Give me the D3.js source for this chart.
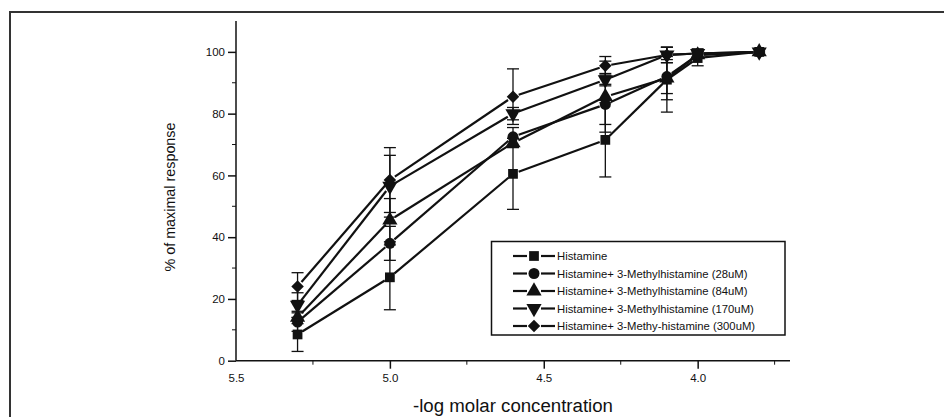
<!DOCTYPE html>
<html>
<head>
<meta charset="utf-8">
<script src="https://cdn.jsdelivr.net/npm/d3@7"></script>
<style>
  body { margin: 0; background: #fff; }
  text { font-family: "Liberation Sans", Arial, sans-serif; fill: #111; }
</style>
</head>
<body>
<script>
// data
const concentrations = [5.3, 5.0, 4.6, 4.3, 4.1, 4.0, 3.8];
const seriesNames = [
  "Histamine",
  "Histamine+ 3-Methylhistamine (28uM)",
  "Histamine+ 3-Methylhistamine (84uM)",
  "Histamine+ 3-Methylhistamine (170uM)",
  "Histamine+ 3-Methy-histamine (300uM)"
];
const histamine     = [8.5, 27, 60.5, 71.5, 91, 98, 100];
const histamine28   = [12.5, 38, 72.5, 83, 92, 99, 100];
const histamine84   = [14, 45.5, 70.5, 85.5, 91.5, 99, 100];
const histamine170  = [18, 56.5, 80, 91, 99, 99.5, 100];
const histamine300  = [24, 58.5, 85.5, 95.5, 99, 99.5, 100];
const errHistamine  = [5.5, 10.5, 11.5, 12, 10.5, 2.5, 0];
const err28         = [3, 5.5, 3, 6.5, 5.5, 1, 0];
const err84         = [2, 7, 1.5, 11.5, 7, 1, 0];
const err170        = [4, 10, 2, 2, 2.5, 1, 0];
const err300        = [4.5, 10.5, 9, 3, 2.5, 1.5, 0];
const xTicks = [5.5, 5.0, 4.5, 4.0];
const yTicks = [0, 20, 40, 60, 80, 100];

const width = 944;
const height = 417;
const marginLeft = 236;
const axisRight = 790;
const axisTop = 21;
const axisBottom = 360.7;

const values = [histamine, histamine28, histamine84, histamine170, histamine300];
const errors = [errHistamine, err28, err84, err170, err300];
const shapes = ["square", "circle", "triangle", "triangleDown", "diamond"];

const x = d3.scaleLinear().domain([5.5, 3.7]).range([marginLeft, axisRight]);
const y = d3.scaleLinear().domain([0, 110]).range([axisBottom, axisTop]);

const svg = d3.select("body").append("svg")
  .attr("width", width)
  .attr("height", height)
  .attr("viewBox", [0, 0, width, height]);

// outer frame (left + top only)
svg.append("path")
  .attr("d", `M10,${height} V12 H${width}`)
  .attr("fill", "none")
  .attr("stroke", "#333")
  .attr("stroke-width", 2);

function marker(g, shape) {
  let p;
  if (shape === "triangleDown") {
    p = g.append("path").attr("d", d3.symbol(d3.symbolTriangle, 100)()).attr("transform", "rotate(180)");
  } else if (shape === "diamond") {
    p = g.append("path").attr("d", d3.symbol(d3.symbolSquare, 78)()).attr("transform", "rotate(45)");
  } else {
    const type = {square: d3.symbolSquare, circle: d3.symbolCircle, triangle: d3.symbolTriangle}[shape];
    const size = {square: 95, circle: 95, triangle: 100}[shape];
    p = g.append("path").attr("d", d3.symbol(type, size)());
  }
  p.attr("fill", "#111");
}

// axes
const xAxis = svg.append("g")
  .attr("transform", `translate(0,${axisBottom})`)
  .call(d3.axisBottom(x).tickValues(xTicks).tickFormat(d3.format(".1f")).tickSize(8).tickPadding(5));
xAxis.select(".domain").attr("d", `M${marginLeft},0H${axisRight}`);
xAxis.selectAll(".tick").filter(d => d === 5.5).select("line").remove();

svg.append("g")
  .attr("transform", `translate(0,${axisBottom})`)
  .selectAll("line")
  .data([5.25, 4.75, 4.25, 3.75])
  .join("line")
  .attr("x1", d => x(d)).attr("x2", d => x(d))
  .attr("y1", 0).attr("y2", 4)
  .attr("stroke", "#111");

const yAxis = svg.append("g")
  .attr("transform", `translate(${marginLeft},0)`)
  .call(d3.axisLeft(y).tickValues(yTicks).tickSize(8).tickPadding(3));
yAxis.select(".domain").attr("d", `M0,${axisBottom}V${axisTop}`);

svg.append("g")
  .attr("transform", `translate(${marginLeft},0)`)
  .selectAll("line")
  .data([10, 30, 50, 70, 90])
  .join("line")
  .attr("y1", d => y(d)).attr("y2", d => y(d))
  .attr("x1", 0).attr("x2", -4)
  .attr("stroke", "#111");

svg.selectAll(".tick text").attr("font-size", 11.5).attr("fill", "#111")
  .attr("font-family", "'Liberation Sans', Arial, sans-serif");
svg.selectAll(".domain, .tick line").attr("stroke", "#111").attr("stroke-width", 1.5);

// axis titles
svg.append("text")
  .attr("transform", "translate(175,197) rotate(-90)")
  .attr("text-anchor", "middle")
  .attr("font-size", 14)
  .attr("textLength", 149)
  .attr("lengthAdjust", "spacingAndGlyphs")
  .text("% of maximal response");

svg.append("text")
  .attr("x", 513)
  .attr("y", 412)
  .attr("text-anchor", "middle")
  .attr("font-size", 18)
  .attr("textLength", 200)
  .attr("lengthAdjust", "spacingAndGlyphs")
  .text("-log molar concentration");

// series
const gap = 6;
values.forEach((vals, i) => {
  const pts = concentrations.map((c, j) => [x(c), y(vals[j])]);
  const g = svg.append("g");

  // error bars
  concentrations.forEach((c, j) => {
    const e = errors[i][j];
    if (!e) return;
    const cx = x(c);
    g.append("line").attr("x1", cx).attr("x2", cx)
      .attr("y1", y(vals[j] - e)).attr("y2", y(vals[j] + e));
    [vals[j] - e, vals[j] + e].forEach(v => {
      g.append("line").attr("x1", cx - 6).attr("x2", cx + 6)
        .attr("y1", y(v)).attr("y2", y(v));
    });
  });
  g.selectAll("line").attr("stroke", "#111").attr("stroke-width", 1.3);

  // connecting lines with small gaps at the markers
  for (let j = 0; j < pts.length - 1; j++) {
    const [x1, y1] = pts[j], [x2, y2] = pts[j + 1];
    const len = Math.hypot(x2 - x1, y2 - y1);
    if (len <= 2 * gap) continue;
    const ux = (x2 - x1) / len, uy = (y2 - y1) / len;
    g.append("line")
      .attr("x1", x1 + ux * gap).attr("y1", y1 + uy * gap)
      .attr("x2", x2 - ux * gap).attr("y2", y2 - uy * gap)
      .attr("stroke", "#111").attr("stroke-width", 2.2);
  }

  pts.forEach(p => {
    marker(g.append("g").attr("transform", `translate(${p[0]},${p[1]})`), shapes[i]);
  });
});

// legend
const legend = svg.append("g");
legend.append("rect")
  .attr("x", 491.5).attr("y", 241.5)
  .attr("width", 293.5).attr("height", 93.5)
  .attr("fill", "#fff")
  .attr("stroke", "#111")
  .attr("stroke-width", 1.5);

seriesNames.forEach((name, i) => {
  const ly = 256 + i * 17.5;
  const row = legend.append("g");
  row.append("line").attr("x1", 513).attr("x2", 527).attr("y1", ly).attr("y2", ly)
    .attr("stroke", "#111").attr("stroke-width", 2.2);
  row.append("line").attr("x1", 541).attr("x2", 555).attr("y1", ly).attr("y2", ly)
    .attr("stroke", "#111").attr("stroke-width", 2.2);
  marker(row.append("g").attr("transform", `translate(534,${ly})`), shapes[i]);
  row.append("text")
    .attr("x", 557).attr("y", ly + 4)
    .attr("font-size", 11.3)
    .text(name);
});
</script>
</body>
</html>
